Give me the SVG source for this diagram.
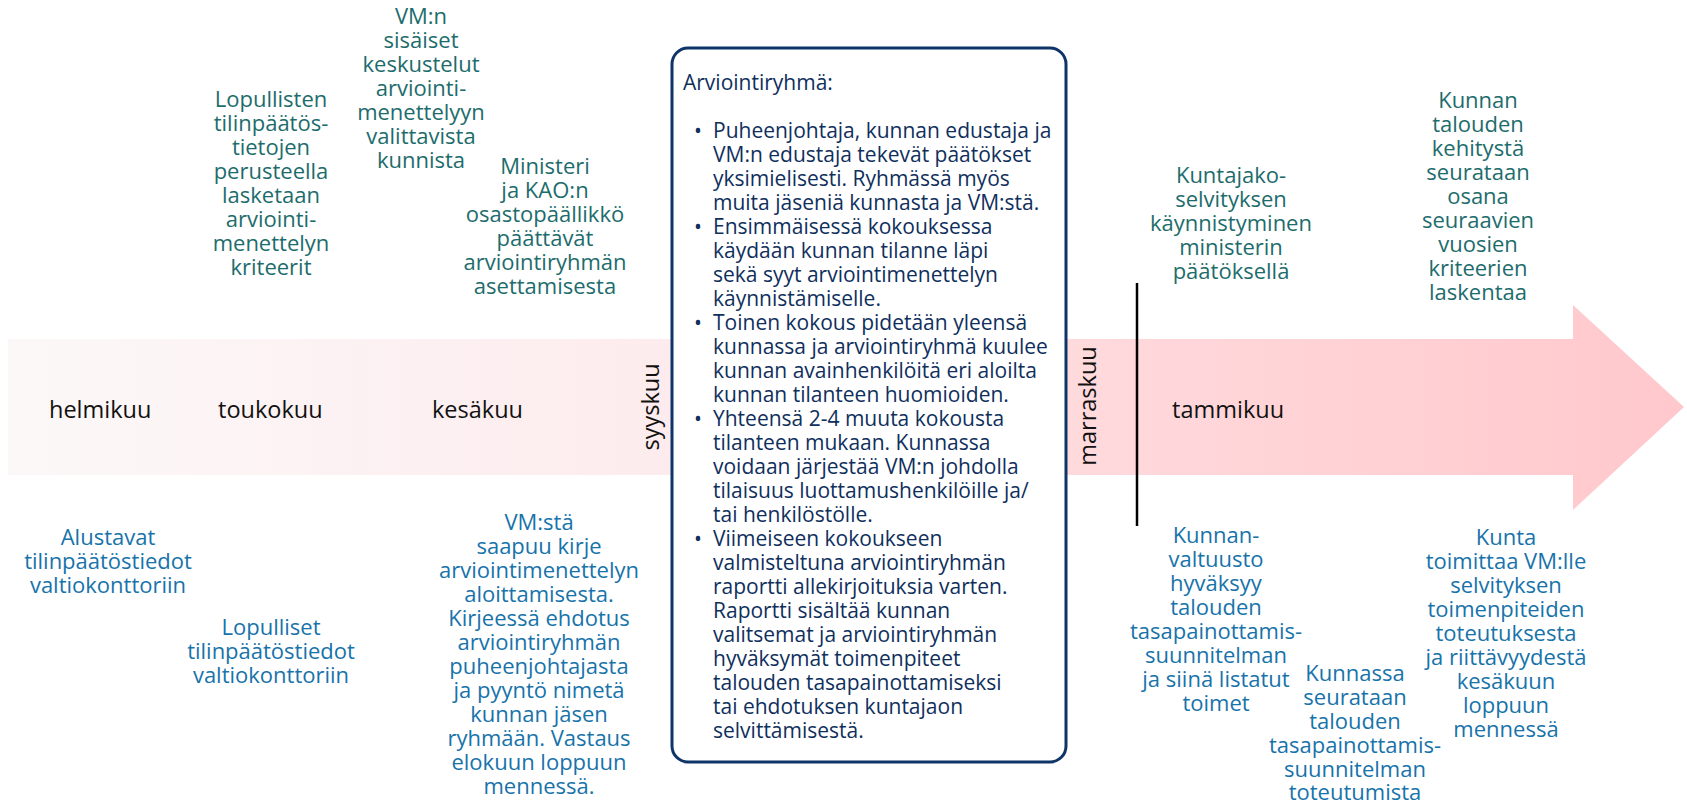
<svg xmlns="http://www.w3.org/2000/svg" width="1687" height="805" viewBox="0 0 1687 805">
<defs>
<linearGradient id="band" gradientUnits="userSpaceOnUse" x1="8" y1="0" x2="1684" y2="0">
<stop offset="0" stop-color="#fcf8f8"/>
<stop offset="0.38" stop-color="#fdecee"/>
<stop offset="0.65" stop-color="#ffd9dc"/>
<stop offset="1" stop-color="#ffc8cc"/>
</linearGradient>
<style>
.month{font-family:"Open Sans","Noto Sans",sans-serif;font-size:23.5px;fill:#111}
.teal{font-family:"Open Sans","Noto Sans",sans-serif;font-size:22px;fill:#1d6c6c;text-anchor:middle}
.blue{font-family:"Open Sans","Noto Sans",sans-serif;font-size:22px;fill:#1773aa;text-anchor:middle}
.box{font-family:"Open Sans","Noto Sans",sans-serif;font-size:21px;fill:#0f2f5d}
</style>
</defs>
<rect width="1687" height="805" fill="#ffffff"/>
<g id="timeline">
<polygon points="8,339 1573,339 1573,305 1684,407 1573,510 1573,475 8,475" fill="url(#band)"/>
<line x1="1137" y1="283" x2="1137" y2="526" stroke="#000" stroke-width="2.5"/>
</g>
<g id="months">
<text class="month" x="49" y="418">helmikuu</text>
<text class="month" x="218" y="418">toukokuu</text>
<text class="month" x="432" y="418">kesäkuu</text>
<text class="month" x="1172" y="418">tammikuu</text>
<text class="month" text-anchor="middle" transform="translate(659,407) rotate(-90)">syyskuu</text>
<text class="month" text-anchor="middle" transform="translate(1096,406) rotate(-90)">marraskuu</text>
</g>
<g id="arviointiryhma">
<rect x="672" y="48" width="394" height="714" rx="16" ry="16" fill="#fff" stroke="#0e3468" stroke-width="3"/>
<text class="box" x="683" y="90">Arviointiryhmä:</text>
<text class="box">
<tspan x="694" y="138">•</tspan><tspan x="713" y="138">Puheenjohtaja, kunnan edustaja ja</tspan>
<tspan x="713" y="162">VM:n edustaja tekevät päätökset</tspan>
<tspan x="713" y="186">yksimielisesti. Ryhmässä myös</tspan>
<tspan x="713" y="210">muita jäseniä kunnasta ja VM:stä.</tspan>
<tspan x="694" y="234">•</tspan><tspan x="713" y="234">Ensimmäisessä kokouksessa</tspan>
<tspan x="713" y="258">käydään kunnan tilanne läpi</tspan>
<tspan x="713" y="282">sekä syyt arviointimenettelyn</tspan>
<tspan x="713" y="306">käynnistämiselle.</tspan>
<tspan x="694" y="330">•</tspan><tspan x="713" y="330">Toinen kokous pidetään yleensä</tspan>
<tspan x="713" y="354">kunnassa ja arviointiryhmä kuulee</tspan>
<tspan x="713" y="378">kunnan avainhenkilöitä eri aloilta</tspan>
<tspan x="713" y="402">kunnan tilanteen huomioiden.</tspan>
<tspan x="694" y="426">•</tspan><tspan x="713" y="426">Yhteensä 2-4 muuta kokousta</tspan>
<tspan x="713" y="450">tilanteen mukaan. Kunnassa</tspan>
<tspan x="713" y="474">voidaan järjestää VM:n johdolla</tspan>
<tspan x="713" y="498">tilaisuus luottamushenkilöille ja/</tspan>
<tspan x="713" y="522">tai henkilöstölle.</tspan>
<tspan x="694" y="546">•</tspan><tspan x="713" y="546">Viimeiseen kokoukseen</tspan>
<tspan x="713" y="570">valmisteltuna arviointiryhmän</tspan>
<tspan x="713" y="594">raportti allekirjoituksia varten.</tspan>
<tspan x="713" y="618">Raportti sisältää kunnan</tspan>
<tspan x="713" y="642">valitsemat ja arviointiryhmän</tspan>
<tspan x="713" y="666">hyväksymät toimenpiteet</tspan>
<tspan x="713" y="690">talouden tasapainottamiseksi</tspan>
<tspan x="713" y="714">tai ehdotuksen kuntajaon</tspan>
<tspan x="713" y="738">selvittämisestä.</tspan>
</text>
</g>
<g id="lopullisten-kriteerit">
<text class="teal"><tspan x="271" y="107">Lopullisten</tspan><tspan x="271" dy="24">tilinpäätös-</tspan><tspan x="271" dy="24">tietojen</tspan><tspan x="271" dy="24">perusteella</tspan><tspan x="271" dy="24">lasketaan</tspan><tspan x="271" dy="24">arviointi-</tspan><tspan x="271" dy="24">menettelyn</tspan><tspan x="271" dy="24">kriteerit</tspan></text>
</g>
<g id="vm-sisaiset">
<text class="teal"><tspan x="421" y="23.5">VM:n</tspan><tspan x="421" dy="24">sisäiset</tspan><tspan x="421" dy="24">keskustelut</tspan><tspan x="421" dy="24">arviointi-</tspan><tspan x="421" dy="24">menettelyyn</tspan><tspan x="421" dy="24">valittavista</tspan><tspan x="421" dy="24">kunnista</tspan></text>
</g>
<g id="ministeri">
<text class="teal"><tspan x="545" y="174">Ministeri</tspan><tspan x="545" dy="24">ja KAO:n</tspan><tspan x="545" dy="24">osastopäällikkö</tspan><tspan x="545" dy="24">päättävät</tspan><tspan x="545" dy="24">arviointiryhmän</tspan><tspan x="545" dy="24">asettamisesta</tspan></text>
</g>
<g id="kuntajako">
<text class="teal"><tspan x="1231" y="183">Kuntajako-</tspan><tspan x="1231" dy="24">selvityksen</tspan><tspan x="1231" dy="24">käynnistyminen</tspan><tspan x="1231" dy="24">ministerin</tspan><tspan x="1231" dy="24">päätöksellä</tspan></text>
</g>
<g id="kunnan-talouden-kehitys">
<text class="teal"><tspan x="1478" y="108">Kunnan</tspan><tspan x="1478" dy="24">talouden</tspan><tspan x="1478" dy="24">kehitystä</tspan><tspan x="1478" dy="24">seurataan</tspan><tspan x="1478" dy="24">osana</tspan><tspan x="1478" dy="24">seuraavien</tspan><tspan x="1478" dy="24">vuosien</tspan><tspan x="1478" dy="24">kriteerien</tspan><tspan x="1478" dy="24">laskentaa</tspan></text>
</g>
<g id="alustavat">
<text class="blue"><tspan x="108" y="545">Alustavat</tspan><tspan x="108" dy="24">tilinpäätöstiedot</tspan><tspan x="108" dy="24">valtiokonttoriin</tspan></text>
</g>
<g id="lopulliset">
<text class="blue"><tspan x="271" y="635">Lopulliset</tspan><tspan x="271" dy="24">tilinpäätöstiedot</tspan><tspan x="271" dy="24">valtiokonttoriin</tspan></text>
</g>
<g id="vm-kirje">
<text class="blue"><tspan x="539" y="530">VM:stä</tspan><tspan x="539" dy="24">saapuu kirje</tspan><tspan x="539" dy="24">arviointimenettelyn</tspan><tspan x="539" dy="24">aloittamisesta.</tspan><tspan x="539" dy="24">Kirjeessä ehdotus</tspan><tspan x="539" dy="24">arviointiryhmän</tspan><tspan x="539" dy="24">puheenjohtajasta</tspan><tspan x="539" dy="24">ja pyyntö nimetä</tspan><tspan x="539" dy="24">kunnan jäsen</tspan><tspan x="539" dy="24">ryhmään. Vastaus</tspan><tspan x="539" dy="24">elokuun loppuun</tspan><tspan x="539" dy="24">mennessä.</tspan></text>
</g>
<g id="valtuusto">
<text class="blue"><tspan x="1216" y="543">Kunnan-</tspan><tspan x="1216" dy="24">valtuusto</tspan><tspan x="1216" dy="24">hyväksyy</tspan><tspan x="1216" dy="24">talouden</tspan><tspan x="1216" dy="24">tasapainottamis-</tspan><tspan x="1216" dy="24">suunnitelman</tspan><tspan x="1216" dy="24">ja siinä listatut</tspan><tspan x="1216" dy="24">toimet</tspan></text>
</g>
<g id="seuranta">
<text class="blue"><tspan x="1355" y="681">Kunnassa</tspan><tspan x="1355" dy="24">seurataan</tspan><tspan x="1355" dy="24">talouden</tspan><tspan x="1355" dy="24">tasapainottamis-</tspan><tspan x="1355" dy="24">suunnitelman</tspan><tspan x="1355" dy="23">toteutumista</tspan></text>
</g>
<g id="selvitys">
<text class="blue"><tspan x="1506" y="545">Kunta</tspan><tspan x="1506" dy="24">toimittaa VM:lle</tspan><tspan x="1506" dy="24">selvityksen</tspan><tspan x="1506" dy="24">toimenpiteiden</tspan><tspan x="1506" dy="24">toteutuksesta</tspan><tspan x="1506" dy="24">ja riittävyydestä</tspan><tspan x="1506" dy="24">kesäkuun</tspan><tspan x="1506" dy="24">loppuun</tspan><tspan x="1506" dy="24">mennessä</tspan></text>
</g>
</svg>
